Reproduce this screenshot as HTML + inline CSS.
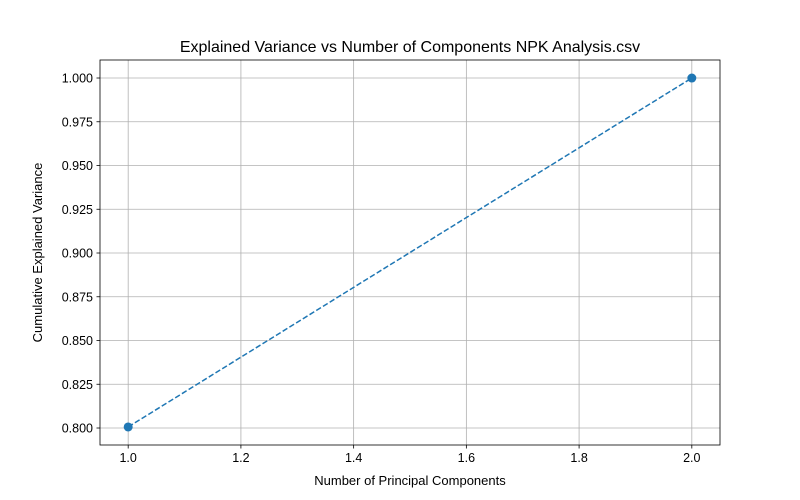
<!DOCTYPE html>
<html><head><meta charset="utf-8"><style>
body{margin:0;background:#fff;}
svg{display:block;font-family:"Liberation Sans","DejaVu Sans",sans-serif;}
</style></head><body>
<svg id="chart" width="800" height="500"></svg>
<script>
const xValues=[1,2];
const yValues=[0.8006,1.0];
const xTicks=[1.0,1.2,1.4,1.6,1.8,2.0];
const yTicks=[0.800,0.825,0.850,0.875,0.900,0.925,0.950,0.975,1.000];
const L=100,R=720,T=60,B=445;
const x0=0.95,x1=2.05,y0=0.79029,y1=1.01029;
const sx=v=>L+(v-x0)/(x1-x0)*(R-L);
const sy=v=>B-(v-y0)/(y1-y0)*(B-T);
const ns="http://www.w3.org/2000/svg";
const svg=document.getElementById('chart');
function mk(tag,attrs,parent){const e=document.createElementNS(ns,tag);for(const k in attrs)e.setAttribute(k,attrs[k]);(parent||svg).appendChild(e);return e;}
const grid=mk('g',{});


xTicks.forEach(t=>{
 const X=sx(t);
 mk('line',{x1:X,x2:X,y1:T,y2:B,stroke:'#b0b0b0','stroke-width':0.8},grid);
 mk('line',{x1:X,x2:X,y1:B,y2:B+3.5,stroke:'#000','stroke-width':0.8});
 const tx=mk('text',{x:X,y:B+17,'text-anchor':'middle','font-size':12.5,fill:'#000'});
 tx.textContent=t.toFixed(1);
 
 
});
yTicks.forEach(t=>{
 const Y=sy(t);
 mk('line',{x1:L,x2:R,y1:Y,y2:Y,stroke:'#b0b0b0','stroke-width':0.8},grid);
 mk('line',{x1:L-3.5,x2:L,y1:Y,y2:Y,stroke:'#000','stroke-width':0.8});
 const tx=mk('text',{x:L-7,y:Y+4.5,'text-anchor':'end','font-size':12.5,fill:'#000'});
 tx.textContent=t.toFixed(3);
 
 
});
const line=mk('polyline',{points:xValues.map((v,i)=>sx(v)+','+sy(yValues[i])).join(' '),fill:'none',stroke:'#1f77b4','stroke-width':1.5,'stroke-dasharray':'5.5,2.4'});


xValues.forEach((v,i)=>{
 const c=mk('circle',{cx:sx(v),cy:sy(yValues[i]),r:4.5,fill:'#1f77b4'});
 
 
});
const frame=mk('rect',{x:L,y:T,width:R-L,height:B-T,fill:'none',stroke:'#000','stroke-width':0.8});


const title=mk('text',{x:(L+R)/2,y:52,'text-anchor':'middle','font-size':16,fill:'#000'});
title.textContent='Explained Variance vs Number of Components NPK Analysis.csv';


const xl=mk('text',{x:(L+R)/2,y:485,'text-anchor':'middle','font-size':13,fill:'#000'});
xl.textContent='Number of Principal Components';


const yl=mk('text',{x:0,y:0,'text-anchor':'middle','font-size':13,fill:'#000',transform:'translate(42,'+((T+B)/2)+') rotate(-90)'});
yl.textContent='Cumulative Explained Variance';


</script>
</body></html>
